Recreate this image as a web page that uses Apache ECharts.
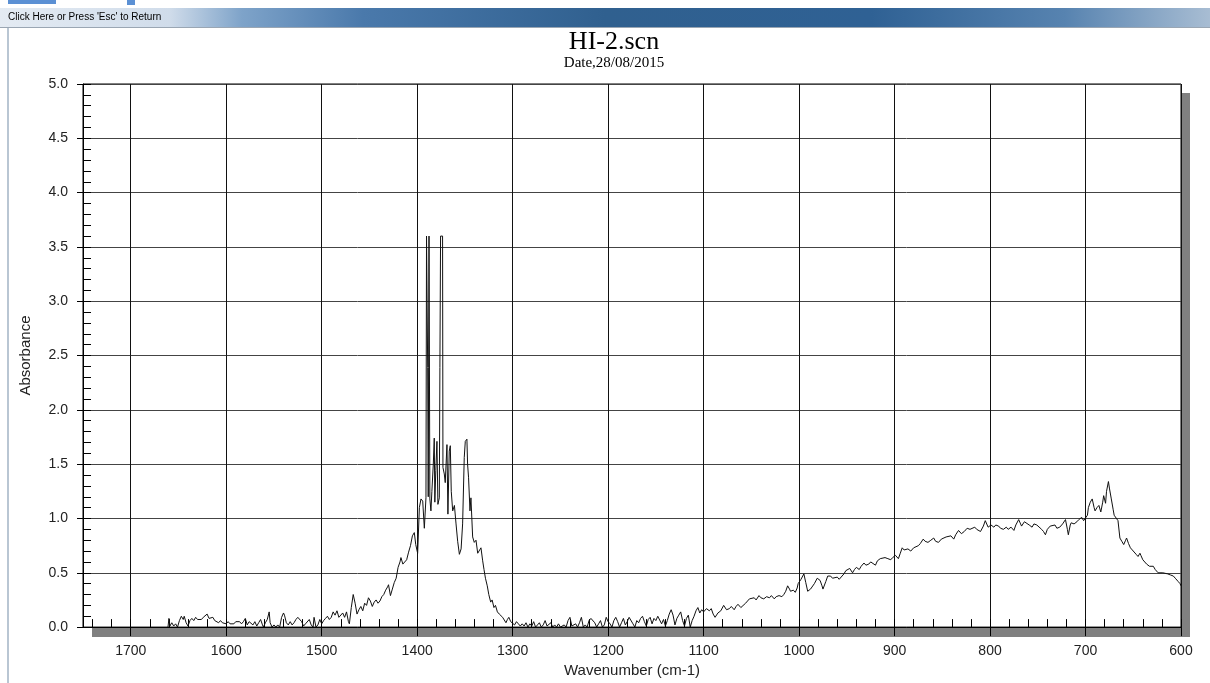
<!DOCTYPE html>
<html>
<head>
<meta charset="utf-8">
<title>HI-2.scn</title>
<script src="https://cdn.jsdelivr.net/npm/echarts@6/dist/echarts.min.js"></script>
<style>
  html, body { margin: 0; padding: 0; background: #fff; }
  #chart { width: 1210px; height: 683px; }
</style>
</head>
<body>
<div id="chart"></div>
<script>
// FTIR absorbance spectrum, [wavenumber cm-1, absorbance] pairs, high to low wavenumber.
const band1660to1500 = [
  [1661,0.00],[1660,0.08],[1659,0.01],[1657,0.04],[1655,0.01],[1653,0.03],[1651,0.00],[1649,0.06],
  [1647,0.10],[1645,0.07],[1644,0.10],[1642,0.04],[1640,0.01],[1638,0.06],[1636,0.08],[1634,0.06],
  [1632,0.09],[1630,0.07],[1628,0.08],[1626,0.07],[1624,0.09],[1622,0.10],[1620,0.12],[1618,0.08],
  [1616,0.07],[1614,0.09],[1612,0.06],[1610,0.05],[1608,0.04],[1606,0.06],[1604,0.04],[1602,0.05],
  [1600,0.03],[1598,0.05],[1596,0.03],[1594,0.04],[1592,0.03],[1590,0.05],[1588,0.04],[1586,0.05],
  [1584,0.03],[1582,0.05],[1580,0.08],[1578,0.02],[1576,0.05],[1574,0.04],[1572,0.02],[1570,0.05],
  [1568,0.01],[1566,0.04],[1564,0.07],[1562,0.02],[1561,0.00],[1559,0.04],[1557,0.07],[1555,0.14],
  [1554,0.04],[1552,0.00],[1550,0.02],[1548,0.00],[1546,0.02],[1544,0.00],[1542,0.09],[1540,0.13],
  [1539,0.11],[1537,0.04],[1535,0.02],[1533,0.05],[1531,0.02],[1529,0.04],[1527,0.07],[1525,0.09],
  [1523,0.10],[1521,0.05],[1519,0.01],[1517,0.03],[1515,0.04],[1513,0.07],[1511,0.02],[1509,0.00],
  [1508,0.09],[1506,0.00],[1504,0.02],[1502,0.07],[1500,0.03]
];
const band1500to1402 = [
  [1498,0.06],[1496,0.08],[1494,0.10],[1492,0.07],[1490,0.09],[1488,0.14],[1486,0.11],[1484,0.15],
  [1482,0.09],[1480,0.10],[1478,0.13],[1476,0.09],[1474,0.14],[1472,0.05],[1471,0.03],[1469,0.18],
  [1467,0.30],[1465,0.22],[1463,0.12],[1461,0.16],[1459,0.19],[1457,0.15],[1455,0.22],[1453,0.20],
  [1451,0.27],[1449,0.24],[1447,0.19],[1445,0.23],[1443,0.25],[1441,0.22],[1439,0.24],[1437,0.28],
  [1435,0.30],[1433,0.34],[1431,0.37],[1430,0.39],[1428,0.29],[1426,0.35],[1424,0.41],[1422,0.45],
  [1420,0.55],[1418,0.60],[1417,0.64],[1415,0.58],[1413,0.58],[1411,0.62],[1409,0.69],[1407,0.75],
  [1405,0.84],[1403,0.87]
];
const band1400to1331 = [
  [1401.5,0.76],[1399.5,0.68],[1397.7,1.10],[1396,1.18],[1394.2,1.16],[1392.5,0.91],[1390.8,1.19],
  [1390.2,3.60],[1389.6,3.60],[1389,2.39],[1388.4,1.20],[1388,2.39],[1387.6,3.60],[1387.2,3.60],
  [1386.7,1.18],[1385.6,1.07],[1384.6,1.25],[1383.1,1.50],[1382.1,1.74],[1381.5,1.15],[1380.5,1.44],
  [1379.3,1.71],[1378.3,1.13],[1376.8,1.19],[1376.2,2.39],[1375.5,3.60],[1373.4,3.60],[1373,1.47],
  [1371.6,1.41],[1370.6,1.33],[1368.8,1.68],[1367.8,1.04],[1366.4,1.62],[1365.3,1.67],[1364.3,1.25],
  [1362.8,1.07],[1361,1.12],[1359.3,0.95],[1357.6,0.79],[1355.8,0.67],[1354,0.72],[1352.4,0.95],
  [1350.7,1.56],[1349.6,1.71],[1347.9,1.73],[1347.2,1.50],[1346.2,1.38],[1344.7,1.07],[1343.7,1.19],
  [1341.9,0.83],[1340.2,0.78],[1338.4,0.80],[1336.6,0.68],[1334.9,0.67],[1333.2,0.73],[1331.4,0.61]
];
const band1330to1200 = [
  [1330,0.53],[1328.5,0.45],[1326.6,0.38],[1325,0.30],[1323,0.23],[1321.5,0.25],[1319.6,0.18],
  [1318,0.20],[1316,0.14],[1314,0.12],[1312.6,0.13],[1310.5,0.09],[1309,0.10],[1307,0.04],
  [1305.5,0.07],[1304,0.09],[1302,0.05],[1300,0.06],[1298,0.02],[1296,0.05],[1294,0.03],[1292,0.01],
  [1290,0.03],[1288,0.01],[1286,0.04],[1284,0.00],[1282,0.03],[1280,0.01],[1278,0.05],[1276,0.00],
  [1274,0.02],[1272,0.04],[1270,0.00],[1268,0.02],[1266,0.06],[1264,0.01],[1262,0.00],[1260,0.04],
  [1258,0.00],[1256,0.02],[1254,0.00],[1252,0.03],[1250,0.00],[1248,0.00],[1246,0.02],[1244,0.00],
  [1242,0.06],[1240,0.09],[1238,0.01],[1236,0.00],[1234,0.03],[1232,0.00],[1230,0.04],[1228,0.09],
  [1226,0.00],[1224,0.02],[1222,0.00],[1220,0.06],[1218,0.08],[1216,0.09],[1214,0.04],[1212,0.00],
  [1210,0.03],[1208,0.06],[1206,0.00],[1204,0.02],[1202,0.09],[1200,0.05]
];
const band1200to1100 = [
  [1198,0.03],[1196,0.00],[1194,0.06],[1192,0.09],[1190,0.05],[1188,0.00],[1186,0.04],[1184,0.08],
  [1182,0.02],[1180,0.05],[1178,0.09],[1176,0.09],[1174,0.03],[1172,0.00],[1170,0.06],[1168,0.04],
  [1166,0.08],[1164,0.10],[1162,0.05],[1160,0.01],[1158,0.07],[1156,0.09],[1154,0.03],[1152,0.08],
  [1150,0.06],[1148,0.10],[1146,0.09],[1144,0.03],[1142,0.07],[1140,0.01],[1138,0.06],[1136,0.12],
  [1134,0.16],[1132,0.11],[1130,0.02],[1128,0.08],[1126,0.11],[1124,0.14],[1122,0.06],[1120,0.01],
  [1118,0.08],[1116,0.11],[1114,0.00],[1112,0.06],[1110,0.10],[1108,0.15],[1106,0.18],[1104,0.13],
  [1102,0.16],[1100,0.14]
];
const band1100to888 = [
  [1097,0.17],[1094,0.15],[1092,0.17],[1090,0.12],[1088,0.09],[1085,0.13],[1082,0.15],[1079,0.20],
  [1076,0.16],[1073,0.17],[1071,0.19],[1068,0.16],[1066,0.19],[1064,0.21],[1061,0.18],[1059,0.19],
  [1056,0.22],[1054,0.24],[1052,0.26],[1050,0.25],[1047,0.27],[1045,0.25],[1042,0.29],[1040,0.27],
  [1037,0.26],[1034,0.28],[1031,0.27],[1029,0.29],[1026,0.26],[1024,0.28],[1021,0.29],[1018,0.28],
  [1016,0.30],[1014,0.33],[1012,0.38],[1010,0.35],[1009,0.33],[1006,0.34],[1004,0.32],[1002,0.36],
  [1001,0.40],[998,0.44],[995,0.49],[993,0.41],[991,0.33],[988,0.35],[986,0.36],[984,0.40],
  [981,0.45],[978,0.43],[976,0.38],[975,0.35],[972,0.42],[970,0.47],[967,0.47],[965,0.45],
  [963,0.44],[960,0.46],[958,0.44],[956,0.43],[953,0.49],[951,0.52],[949,0.53],[947,0.54],
  [944,0.50],[942,0.53],[940,0.55],[937,0.53],[935,0.56],[932,0.59],[930,0.57],[927,0.58],
  [925,0.60],[923,0.61],[920,0.57],[918,0.61],[915,0.63],[913,0.62],[910,0.64],[907,0.63],
  [904,0.62],[902,0.64],[899,0.66],[896,0.63],[894,0.68],[892,0.73],[890,0.71],[888,0.70]
];
const band886to700 = [
  [886,0.72],[883,0.70],[880,0.73],[878,0.72],[875,0.75],[873,0.77],[870,0.81],[868,0.79],
  [865,0.78],[862,0.80],[859,0.82],[857,0.79],[854,0.78],[851,0.81],[849,0.81],[846,0.83],
  [844,0.82],[841,0.84],[838,0.81],[836,0.85],[833,0.89],[830,0.86],[827,0.88],[824,0.91],
  [821,0.90],[819,0.90],[816,0.92],[814,0.90],[812,0.89],[810,0.88],[807,0.93],[805,0.98],
  [803,0.94],[802,0.92],[799,0.94],[796,0.92],[794,0.94],[791,0.93],[789,0.91],[786,0.90],
  [783,0.92],[781,0.90],[778,0.92],[775,0.89],[773,0.94],[770,0.99],[768,0.95],[767,0.93],
  [764,0.97],[762,0.97],[759,0.94],[756,0.92],[754,0.95],[751,0.94],[749,0.93],[746,0.90],
  [744,0.88],[742,0.85],[740,0.90],[737,0.93],[735,0.92],[732,0.94],[730,0.91],[727,0.92],
  [724,0.95],[721,0.99],[719,0.90],[718,0.85],[716,0.94],[715,0.96],[712,0.95],[709,0.97],
  [707,0.99],[704,1.01],[702,0.98],[700,0.99]
];
const band698to600 = [
  [698,1.03],[697,1.10],[695,1.15],[693,1.18],[691,1.10],[690,1.07],[688,1.10],[686,1.12],
  [684,1.06],[682,1.15],[681,1.21],[679,1.14],[678,1.25],[676,1.34],[675,1.28],[673,1.18],
  [671,1.08],[670,1.03],[668,1.02],[666,0.98],[664,0.82],[662,0.79],[660,0.76],[658,0.80],
  [657,0.82],[655,0.77],[653,0.73],[651,0.71],[649,0.70],[647,0.67],[645,0.65],[643,0.68],
  [642,0.66],[640,0.62],[638,0.61],[636,0.58],[633,0.56],[631,0.55],[629,0.56],[627,0.53],
  [624,0.50],[622,0.51],[619,0.50],[617,0.49],[614,0.49],[611,0.48],[608,0.47],[606,0.45],
  [605,0.44],[603,0.42],[601,0.40],[600,0.38]
];

const xTickLabels = [600, 700, 800, 900, 1000, 1100, 1200, 1300, 1400, 1500, 1600, 1700];

const spectrum = [].concat(
  band1660to1500, band1500to1402, band1400to1331, band1330to1200,
  band1200to1100, band1100to888, band886to700, band698to600
);

const chart = echarts.init(document.getElementById('chart'), null, { renderer: 'canvas' });

const labelFont = { fontFamily: 'Liberation Sans', fontSize: 14, color: '#222' };

// plot frame box, used for the drop shadow strips
const frame = { left: 83, top: 84, right: 1181, bottom: 628, shadow: 9 };

chart.setOption({
  animation: false,
  backgroundColor: '#ffffff',
  title: [
    {
      text: 'HI-2.scn', left: 614, top: 29, textAlign: 'center', padding: 0,
      textStyle: { fontFamily: 'Liberation Serif', fontSize: 26, fontWeight: 'normal', color: '#000' }
    },
    {
      text: 'Date,28/08/2015', left: 614, top: 56, textAlign: 'center', padding: 0,
      textStyle: { fontFamily: 'Liberation Serif', fontSize: 15, fontWeight: 'normal', color: '#000' }
    }
  ],
  graphic: [
    // window caption strip
    { type: 'rect', silent: true, z: -10, shape: { x: 0, y: 8, width: 1210, height: 19 },
      style: { fill: new echarts.graphic.LinearGradient(0, 0, 1, 0, [
        { offset: 0, color: '#e4ebf3' }, { offset: 0.14, color: '#d0dcea' },
        { offset: 0.2, color: '#7ea3c9' }, { offset: 0.3, color: '#4a79ab' },
        { offset: 0.5, color: '#30608f' }, { offset: 0.72, color: '#2f6194' },
        { offset: 0.88, color: '#5783b0' }, { offset: 1, color: '#a8bdd3' }
      ]) } },
    { type: 'rect', silent: true, z: -10, shape: { x: 0, y: 27, width: 1210, height: 1 },
      style: { fill: '#9aa6b3' } },
    { type: 'rect', silent: true, z: -10, shape: { x: 7, y: 28, width: 2, height: 655 },
      style: { fill: '#b9c6d3' } },
    { type: 'rect', silent: true, z: -10, shape: { x: 8, y: 0, width: 48, height: 4 },
      style: { fill: '#5b90d4' } },
    { type: 'rect', silent: true, z: -10, shape: { x: 127, y: 0, width: 8, height: 5 },
      style: { fill: '#5b90d4' } },
    { type: 'text', silent: true, z: 10,
      style: { x: 8, y: 17, text: "Click Here or Press 'Esc' to Return", fill: '#000',
        font: '10px "Liberation Sans"', verticalAlign: 'middle' } },
    // drop shadow of the plot frame (bottom and right strips)
    { type: 'rect', silent: true, z: -5,
      shape: { x: frame.left + frame.shadow, y: frame.bottom,
               width: frame.right - frame.left, height: frame.shadow },
      style: { fill: '#808080' } },
    { type: 'rect', silent: true, z: -5,
      shape: { x: frame.right, y: frame.top + frame.shadow,
               width: frame.shadow, height: frame.bottom - frame.top },
      style: { fill: '#808080' } }
  ],
  grid: {
    left: 83, right: 29, top: 84, bottom: 55,
    show: true, backgroundColor: 'transparent',
    borderColor: '#000', borderWidth: 1
  },
  xAxis: [
    {
      type: 'value', inverse: true, min: 600, max: 1750, interval: 100, position: 'bottom',
      name: 'Wavenumber (cm-1)', nameLocation: 'middle', nameGap: 34,
      nameTextStyle: { fontFamily: 'Liberation Sans', fontSize: 15, color: '#222' },
      axisLine: { show: true, lineStyle: { color: '#000', width: 1 } },
      axisTick: { show: true, inside: false, length: 9, customValues: xTickLabels,
        lineStyle: { color: '#000', width: 1 } },
      axisLabel: Object.assign({ margin: 17, customValues: xTickLabels,
        formatter: v => (v % 100 === 0 ? String(v) : '') }, labelFont),
      splitLine: { show: true, lineStyle: { color: '#111', width: 1 } }
    },
    {
      type: 'value', inverse: true, min: 600, max: 1750, interval: 20, position: 'bottom',
      axisLine: { show: false },
      axisTick: { show: true, inside: true, length: 8, lineStyle: { color: '#000', width: 1 } },
      axisLabel: { show: false },
      splitLine: { show: false }
    }
  ],
  yAxis: [
    {
      type: 'value', min: 0, max: 5, interval: 0.5, position: 'left',
      name: 'Absorbance', nameLocation: 'middle', nameGap: 50,
      nameTextStyle: { fontFamily: 'Liberation Sans', fontSize: 15, color: '#222' },
      axisLine: { show: true, lineStyle: { color: '#000', width: 1 } },
      axisTick: { show: true, inside: false, length: 6, lineStyle: { color: '#000', width: 1 } },
      axisLabel: Object.assign({ margin: 15, formatter: v => v.toFixed(1) }, labelFont),
      splitLine: { show: true, lineStyle: { color: '#444', width: 1 } }
    },
    {
      type: 'value', min: 0, max: 5, interval: 0.1, position: 'left', offset: 0,
      axisLine: { show: false },
      axisTick: { show: true, inside: true, length: 8, lineStyle: { color: '#000', width: 1 } },
      axisLabel: { show: false },
      splitLine: { show: false }
    }
  ],
  series: [
    {
      type: 'line', xAxisIndex: 0, yAxisIndex: 0,
      data: spectrum,
      showSymbol: false, symbol: 'none',
      clip: true,
      lineStyle: { color: '#111', width: 1 },
      z: 5
    }
  ]
});
</script>
</body>
</html>
